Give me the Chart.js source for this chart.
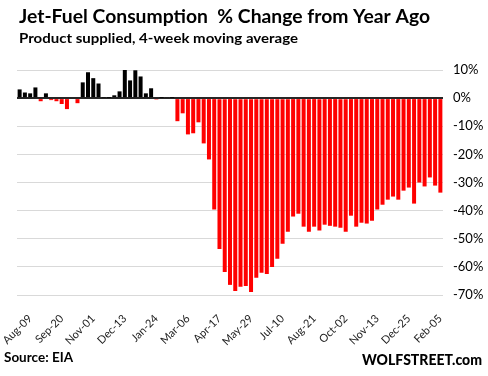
<!DOCTYPE html>
<html>
<head>
<meta charset="utf-8">
<script src="https://cdn.jsdelivr.net/npm/chart.js@4.4.1/dist/chart.umd.min.js"></script>
<style>
  html, body { margin: 0; padding: 0; background: #fff; }
</style>
</head>
<body>
<canvas id="fuel-chart" width="488" height="376"></canvas>
<script>
// weekly dates, Jul 2019 - Feb 2021
const weeks = [
  "Jul-26","Aug-02","Aug-09","Aug-16","Aug-23","Aug-30","Sep-06","Sep-13","Sep-20","Sep-27",
  "Oct-04","Oct-11","Oct-18","Oct-25","Nov-01","Nov-08","Nov-15","Nov-22","Nov-29","Dec-06",
  "Dec-13","Dec-20","Dec-27","Jan-03","Jan-10","Jan-17","Jan-24","Jan-31","Feb-07","Feb-14",
  "Feb-21","Feb-28","Mar-06","Mar-13","Mar-20","Mar-27","Apr-03","Apr-10","Apr-17","Apr-24",
  "May-01","May-08","May-15","May-22","May-29","Jun-05","Jun-12","Jun-19","Jun-26","Jul-03",
  "Jul-10","Jul-17","Jul-24","Jul-31","Aug-07","Aug-14","Aug-21","Aug-28","Sep-04","Sep-11",
  "Sep-18","Sep-25","Oct-02","Oct-09","Oct-16","Oct-23","Oct-30","Nov-06","Nov-13","Nov-20",
  "Nov-27","Dec-04","Dec-11","Dec-18","Dec-25","Jan-01","Jan-08","Jan-15","Jan-22","Jan-29",
  "Feb-05"
];

// % change from year ago
const pctChange = [
  3.1, 2.0, 1.7, 3.8, -1.1, 1.7, -0.7, -1.1, -2.1, -3.9,
  0.0, -1.8, 5.6, 9.2, 7.1, 5.2, 0.2, 0.1, 1.0, 2.4,
  10.2, 6.3, 9.9, 7.7, 1.7, 3.5, -0.5, 0.1, 0.3, 0.1,
  -8.2, -5.4, -12.9, -12.5, -8.6, -16.1, -21.8, -39.6, -53.6, -61.8,
  -66.4, -68.6, -67.1, -66.8, -68.9, -63.9, -62.1, -62.5, -60.0, -57.1,
  -51.8, -47.5, -42.1, -41.1, -45.7, -47.5, -45.7, -47.1, -45.0, -45.4,
  -45.7, -46.1, -47.5, -41.8, -45.7, -44.3, -44.6, -43.6, -39.6, -37.9,
  -36.1, -35.0, -36.1, -32.9, -31.8, -37.5, -30.0, -31.4, -28.2, -31.1,
  -33.6
];

const labelEvery = 6;
const firstLabel = 2;
const yMin = -70, yMax = 10, yStep = 10;

const titleText = "Jet-Fuel Consumption  % Change from Year Ago";
const subtitleText = "Product supplied, 4-week moving average";
const sourceText = "Source: EIA";
const brandText = "WOLFSTREET.com";

// draws text squeezed/stretched to a given width
function fitText(ctx, text, font, x, y, w) {
  ctx.font = font;
  const m = ctx.measureText(text).width;
  ctx.save();
  ctx.translate(x, y);
  ctx.scale(w / m, 1);
  ctx.fillText(text, 0, 0);
  ctx.restore();
}

const headerFooter = {
  id: "headerFooter",
  afterDraw(chart) {
    const ctx = chart.ctx;
    ctx.save();
    ctx.fillStyle = "#000";
    ctx.textBaseline = "alphabetic";
    ctx.textAlign = "left";
    fitText(ctx, titleText, "bold 19px Lato", 19, 23, 411);
    fitText(ctx, subtitleText, "bold 14px Lato", 19, 43, 279);
    fitText(ctx, sourceText, "bold 13px Lato", 4, 362, 69);
    fitText(ctx, brandText, "900 15px Lato", 362, 365, 120);
    ctx.restore();
  }
};

const ctx = document.getElementById("fuel-chart").getContext("2d");
new Chart(ctx, {
  type: "bar",
  data: {
    labels: weeks,
    datasets: [{
      data: pctChange,
      backgroundColor: (c) => (c.raw >= 0 ? "#000000" : "#ff0000"),
      barPercentage: 0.76,
      categoryPercentage: 1.0
    }]
  },
  options: {
    responsive: false,
    animation: false,
    layout: { padding: { top: 70, left: 17, right: 0, bottom: 0 } },
    plugins: {
      legend: { display: false },
      tooltip: { enabled: false }
    },
    scales: {
      x: {
        grid: { display: false },
        border: { display: false },
        afterFit: (s) => { s.height = 81; },
        ticks: {
          autoSkip: false,
          minRotation: 45,
          maxRotation: 45,
          padding: 9,
          color: "#222",
          font: { family: "Lato", size: 11 },
          callback: function (v, i) {
            return (i - firstLabel) % labelEvery === 0 && i >= firstLabel ? weeks[i] : "";
          }
        }
      },
      y: {
        position: "right",
        min: yMin,
        max: yMax,
        afterFit: (s) => { s.width = 45; },
        border: { display: false },
        grid: {
          drawTicks: false,
          color: (c) => (c.tick.value === 0 ? "#262626" : "#d9d9d9"),
          lineWidth: (c) => (c.tick.value === 0 ? 2 : 1)
        },
        ticks: {
          stepSize: yStep,
          padding: 10,
          color: "#000",
          font: { family: "Lato", size: 13 },
          callback: (v) => v + "%"
        }
      }
    }
  },
  plugins: [headerFooter]
});
</script>
</body>
</html>
